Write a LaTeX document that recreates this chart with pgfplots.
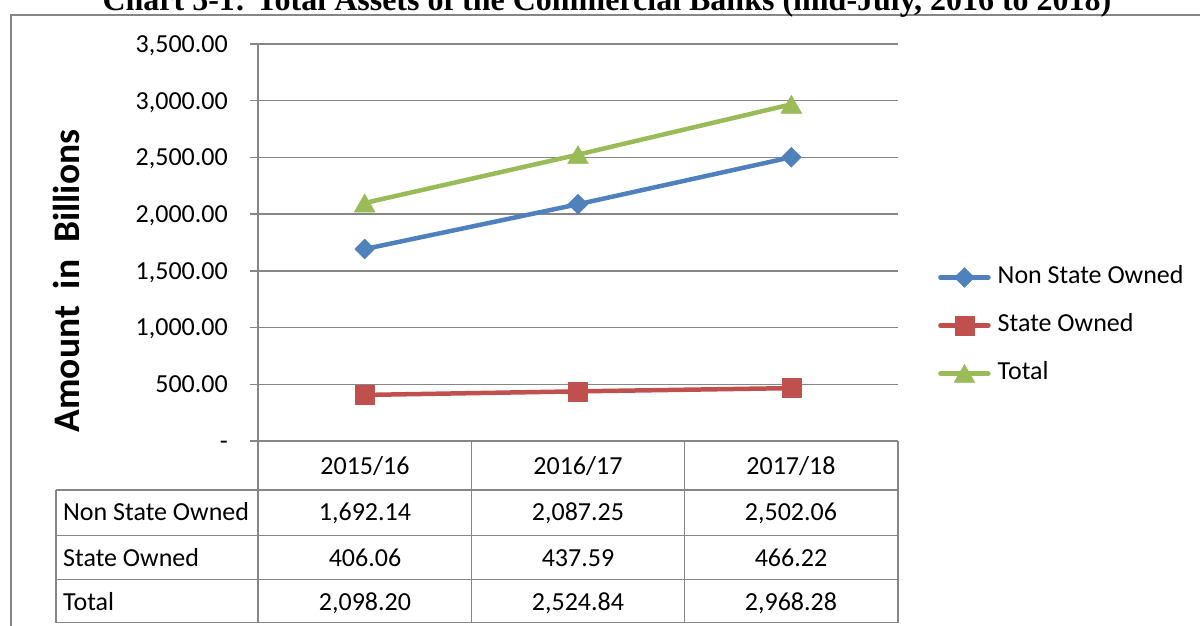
\documentclass[border=0pt]{standalone}
\usepackage{fontspec}
\setmainfont{Carlito}
\newfontfamily\titlefont{Liberation Serif}
\usepackage{pgfplots}
\pgfplotsset{compat=1.18}
\definecolor{nsblue}{HTML}{4F81BD}
\definecolor{sored}{HTML}{C0504D}
\definecolor{totgreen}{HTML}{9BBB59}
\definecolor{gridgray}{HTML}{868686}
\begin{document}
\begin{tikzpicture}[x=1pt,y=1pt]
\useasboundingbox (0,0) rectangle (1200,-626);
% chart frame (runs off the page)
\draw[gridgray, line width=2pt] (11,-700) -- (11,-15) -- (1260,-15);
\node[anchor=base, inner sep=0pt, font=\titlefont\bfseries\fontsize{32}{36}\selectfont]
  at (607,-10.5) {Chart 5-1: Total Assets of the Commercial Banks (mid-July, 2016 to 2018)};

\begin{axis}[
  at={(258pt,-441pt)}, anchor=south west,
  scale only axis, width=640pt, height=397pt,
  xmin=-0.5, xmax=2.5, ymin=0, ymax=3500,
  clip=false,
  hide x axis,
  axis y line*=left,
  axis line style={gridgray, line width=1.5pt},
  ytick={0,500,1000,1500,2000,2500,3000,3500},
  yticklabels={-\hspace{13pt}, 500.00, {1,000.00}, {1,500.00}, {2,000.00}, {2,500.00}, {3,000.00}, {3,500.00}},
  yticklabel style={font=\fontsize{26}{30}\selectfont, anchor=east, inner sep=0pt,
    text height=16.7pt, text depth=0pt, xshift=-22pt},
  /pgf/number format/assume math mode=true,
  tick align=outside, major tick length=8pt,
  tick style={gridgray, line width=1.5pt},
  ymajorgrids, grid style={gridgray, line width=1.5pt},
  every axis plot/.append style={line width=4.5pt, line cap=round, line join=round},
  legend style={at={(1.0625,0.291)}, anchor=west, draw=none, fill=none, inner sep=0pt,
    font=\fontsize{26}{30}\selectfont, row sep=24pt,
    nodes={inner sep=0pt, text height=18pt, text depth=6pt},
    /tikz/every odd column/.append style={column sep=7pt}},
  legend cell align=left,
  legend image code/.code={\draw[#1, mark repeat=2, mark phase=2] plot coordinates {(2pt,0pt)(26pt,0pt)(50pt,0pt)};},
]
\addplot[color=nsblue, mark=square*, mark size=7pt, mark options={rotate=45, line width=0.5pt}]
  coordinates {(0,1692.14)(1,2087.25)(2,2502.06)};
\addlegendentry{Non State Owned}
\addplot[color=sored, mark=square*, mark size=9.5pt, mark options={line width=0.5pt}]
  coordinates {(0,406.06)(1,437.59)(2,466.22)};
\addlegendentry{State Owned}
\addplot[color=totgreen, mark=triangle*, mark size=12pt, mark options={line width=0.5pt, yshift=-3pt}]
  coordinates {(0,2098.20)(1,2524.84)(2,2968.28)};
\addlegendentry{Total}
\end{axis}

% y axis title
\node[rotate=90, inner sep=0pt, font=\bfseries\fontsize{37.5}{41}\selectfont] at (66,-281) {Amount\ \ in\ \ Billions};

% data table
\begin{scope}[gridgray, line width=1.5pt]
\draw (250,-441) -- (898,-441);
\foreach \yy in {490,535.5,579.5,622.5} \draw (56,-\yy) -- (898,-\yy);
\draw (56,-490) -- (56,-622.5);
\foreach \xx in {258,471.3,684.7,898} \draw (\xx,-441) -- (\xx,-622.5);
\end{scope}
\begin{scope}[font=\fontsize{26}{30}\selectfont, inner sep=0pt]
\node[anchor=base] at (365,-474.5) {2015/16};
\node[anchor=base] at (578,-474.5) {2016/17};
\node[anchor=base] at (791,-474.5) {2017/18};
\node[anchor=base west] at (63,-520) {Non State Owned};
\node[anchor=base west] at (63,-566) {State Owned};
\node[anchor=base west] at (63,-610.5) {Total};
\node[anchor=base] at (365,-520) {1,692.14};
\node[anchor=base] at (578,-520) {2,087.25};
\node[anchor=base] at (791,-520) {2,502.06};
\node[anchor=base] at (365,-566) {406.06};
\node[anchor=base] at (578,-566) {437.59};
\node[anchor=base] at (791,-566) {466.22};
\node[anchor=base] at (365,-610.5) {2,098.20};
\node[anchor=base] at (578,-610.5) {2,524.84};
\node[anchor=base] at (791,-610.5) {2,968.28};
\end{scope}
\end{tikzpicture}
\end{document}
